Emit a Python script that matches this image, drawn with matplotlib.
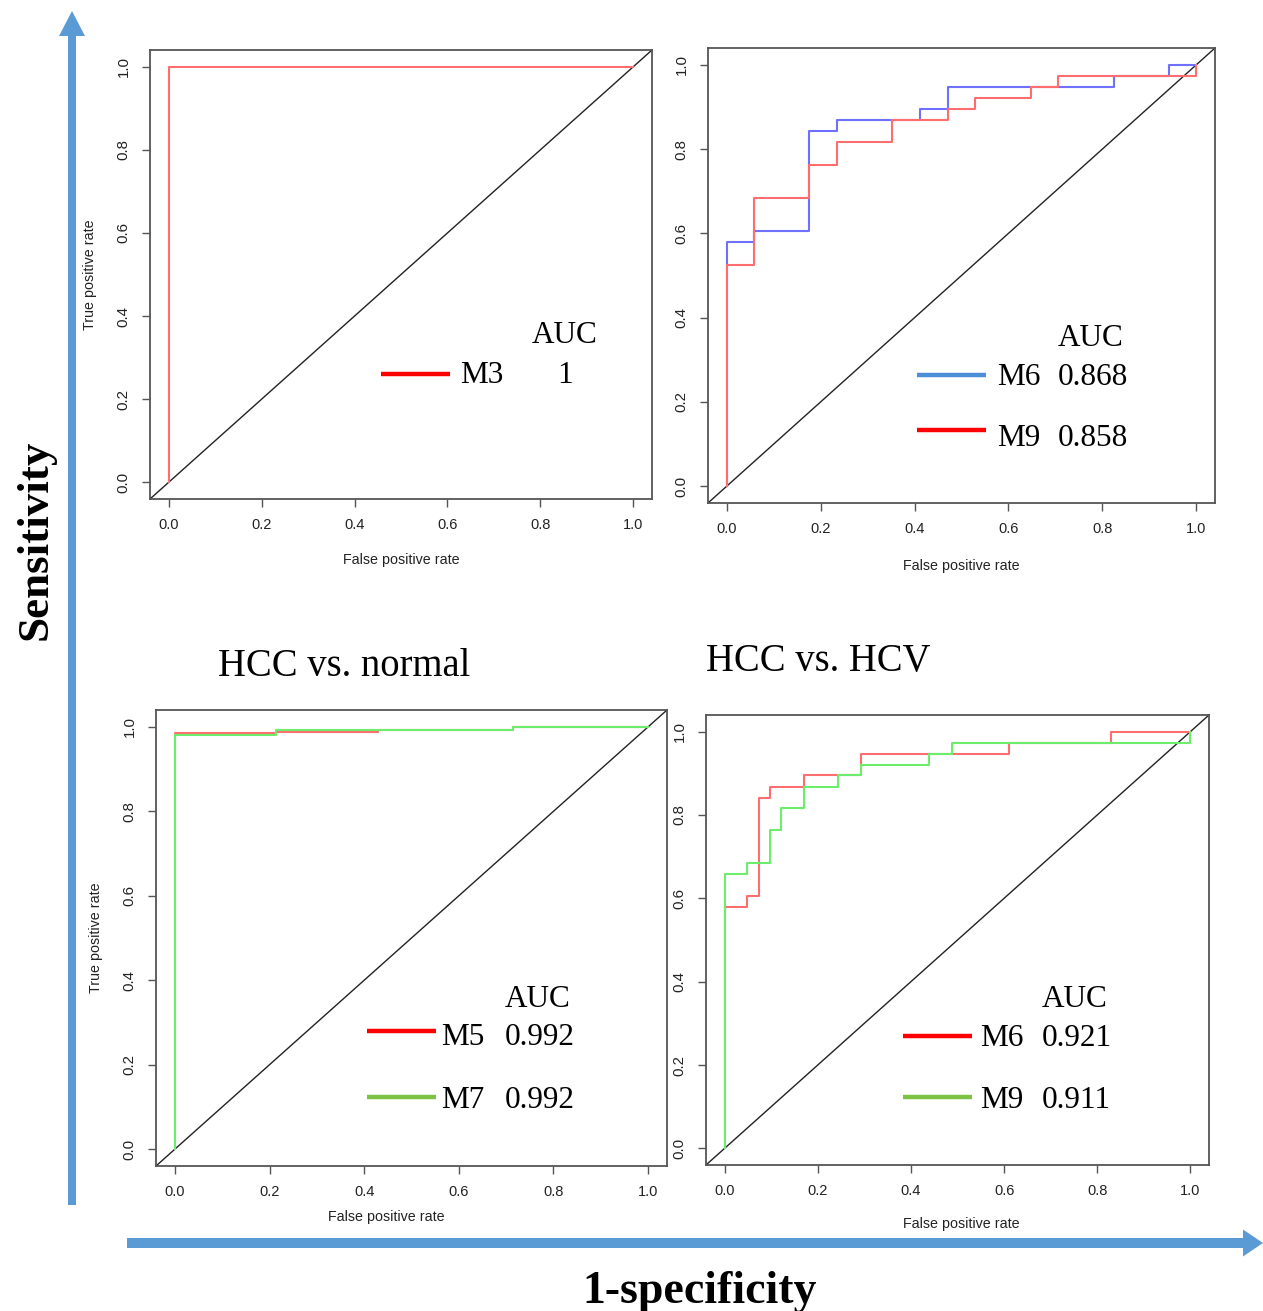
import matplotlib
matplotlib.use("Agg")
import matplotlib.pyplot as plt
from matplotlib.patches import FancyArrow

W, H = 1263, 1311

# ROC corner points
p1_m3_fpr = [0, 0, 1.0]
p1_m3_tpr = [0, 1.0, 1.0]

p2_m6_fpr = [0, 0, 0.059, 0.059, 0.176, 0.176, 0.235, 0.235, 0.412, 0.412, 0.471, 0.471, 0.824, 0.824, 0.941, 0.941, 1.0]
p2_m6_tpr = [0, 0.579, 0.579, 0.605, 0.605, 0.842, 0.842, 0.868, 0.868, 0.895, 0.895, 0.947, 0.947, 0.974, 0.974, 1.0, 1.0]
p2_m9_fpr = [0, 0, 0.059, 0.059, 0.176, 0.176, 0.235, 0.235, 0.353, 0.353, 0.471, 0.471, 0.529, 0.529, 0.647, 0.647, 0.706, 0.706, 1.0, 1.0]
p2_m9_tpr = [0, 0.526, 0.526, 0.684, 0.684, 0.763, 0.763, 0.816, 0.816, 0.868, 0.868, 0.895, 0.895, 0.921, 0.921, 0.947, 0.947, 0.974, 0.974, 1.0]

p3_m5_fpr = [0, 0, 0.213, 0.213, 0.429, 0.429, 0.715, 0.715, 1.0]
p3_m5_tpr = [0, 0.986, 0.986, 0.988, 0.988, 0.993, 0.993, 1.0, 1.0]
p3_m7_fpr = [0, 0, 0.213, 0.213, 0.715, 0.715, 1.0]
p3_m7_tpr = [0, 0.981, 0.981, 0.993, 0.993, 1.0, 1.0]

p4_m6_fpr = [0, 0, 0.049, 0.049, 0.073, 0.073, 0.098, 0.098, 0.171, 0.171, 0.293, 0.293, 0.610, 0.610, 0.829, 0.829, 1.0]
p4_m6_tpr = [0, 0.579, 0.579, 0.605, 0.605, 0.842, 0.842, 0.868, 0.868, 0.895, 0.895, 0.947, 0.947, 0.974, 0.974, 1.0, 1.0]
p4_m9_fpr = [0, 0, 0.049, 0.049, 0.098, 0.098, 0.122, 0.122, 0.171, 0.171, 0.244, 0.244, 0.293, 0.293, 0.439, 0.439, 0.488, 0.488, 1.0, 1.0]
p4_m9_tpr = [0, 0.658, 0.658, 0.684, 0.684, 0.763, 0.763, 0.816, 0.816, 0.868, 0.868, 0.895, 0.895, 0.921, 0.921, 0.947, 0.947, 0.974, 0.974, 1.0]

auc_p1 = ["1"]
auc_p2 = ["0.868", "0.858"]
auc_p3 = ["0.992", "0.992"]
auc_p4 = ["0.921", "0.911"]

RED, BLUE, GREEN = "#ff6e6e", "#7070ff", "#6cee6c"
serif = ["Liberation Serif", "DejaVu Serif"]
sans = ["Liberation Sans", "DejaVu Sans"]

fig = plt.figure(figsize=(W / 100, H / 100), dpi=100)


def px_axes(left, top, right, bottom):
    return fig.add_axes([left / W, 1 - bottom / H, (right - left) / W, (bottom - top) / H])


def roc_panel(ax, curves, ylabel=True, xlabel_pad=16):
    ax.set_xlim(-0.04, 1.04)
    ax.set_ylim(-0.04, 1.04)
    ax.axline((0, 0), (1, 1), color="#222222", lw=1.0)
    for fpr, tpr, c in curves:
        ax.plot(fpr, tpr, color=c, lw=1.5)
    ticks = [0, 0.2, 0.4, 0.6, 0.8, 1.0]
    ax.set_xticks(ticks)
    ax.set_yticks(ticks)
    ax.set_xticklabels([f"{t:.1f}" for t in ticks], fontfamily=sans, fontsize=10.5, color="#222222")
    ax.set_yticklabels([f"{t:.1f}" for t in ticks], fontfamily=sans, fontsize=10.8, color="#222222",
                       rotation=90, va="center")
    ax.tick_params(direction="out", length=6, width=1, color="#555555", pad=8)
    for s in ax.spines.values():
        s.set_color("#555555")
        s.set_linewidth(1.3)
    ax.set_xlabel("False positive rate", fontfamily=sans, fontsize=10.3, color="#222222", labelpad=xlabel_pad)
    if ylabel:
        ax.set_ylabel("True positive rate", fontfamily=sans, fontsize=10.3, color="#222222", labelpad=14)


ax1 = px_axes(150, 50, 652, 499)
roc_panel(ax1, [(p1_m3_fpr, p1_m3_tpr, RED)], xlabel_pad=15)
ax2 = px_axes(708, 48, 1215, 503)
roc_panel(ax2, [(p2_m6_fpr, p2_m6_tpr, BLUE), (p2_m9_fpr, p2_m9_tpr, RED)], ylabel=False)
ax3 = px_axes(156, 710, 667, 1166)
roc_panel(ax3, [(p3_m5_fpr, p3_m5_tpr, RED), (p3_m7_fpr, p3_m7_tpr, GREEN)])
ax3.xaxis.set_label_coords((386 - 156) / 511, (1166 - 1210) / 456)
ax4 = px_axes(706, 715, 1209, 1165)
roc_panel(ax4, [(p4_m6_fpr, p4_m6_tpr, RED), (p4_m9_fpr, p4_m9_tpr, GREEN)], ylabel=False, xlabel_pad=14)
ax4.xaxis.set_label_coords((961 - 706) / 503, (1165 - 1217) / 450)

# overlay in pixel coordinates for arrows, legends and big labels
ov = fig.add_axes([0, 0, 1, 1], zorder=10)
ov.set_xlim(0, W)
ov.set_ylim(H, 0)
ov.axis("off")

arrow_c = "#5b9bd5"
ov.add_patch(FancyArrow(72, 1205, 0, -1194, width=8, head_width=26, head_length=25,
                        length_includes_head=True, color=arrow_c, lw=0))
ov.add_patch(FancyArrow(127, 1243, 1136, 0, width=10, head_width=27, head_length=20,
                        length_includes_head=True, color=arrow_c, lw=0))

ov.text(36, 540, "Sensitivity", rotation=90, ha="center", va="center",
        fontfamily=serif, fontweight="bold", fontsize=32.5)
ov.text(700, 1303, "1-specificity", ha="center", va="baseline",
        fontfamily=serif, fontweight="bold", fontsize=33)
ov.text(344, 676, "HCC vs. normal", ha="center", va="baseline", fontfamily=serif, fontsize=27.8)
ov.text(818, 671, "HCC vs. HCV", ha="center", va="baseline", fontfamily=serif, fontsize=27.8)


def legend(x_line, x_name, x_val, y_auc, rows, val_ha="left"):
    ov.text(x_val if val_ha == "left" else x_val - 33, y_auc, "AUC", ha="left", va="baseline",
            fontfamily=serif, fontsize=22.5)
    for y_line, y_base, c, name, val in rows:
        ov.plot([x_line, x_line + 69], [y_line, y_line], color=c, lw=3.2, solid_capstyle="butt")
        ov.text(x_name, y_base, name, ha="left", va="baseline", fontfamily=serif, fontsize=22.5)
        ov.text(x_val, y_base, val, ha=val_ha, va="baseline", fontfamily=serif, fontsize=22.5)


legend(381, 460, 565, 343, [(374, 383, "#ff0000", "M3", auc_p1[0])], val_ha="center")
legend(917, 997, 1058, 346, [(375, 385, "#4a8fd8", "M6", auc_p2[0]),
                             (430, 446, "#ff0000", "M9", auc_p2[1])])
legend(367, 441, 505, 1007, [(1031, 1045, "#ff0000", "M5", auc_p3[0]),
                             (1097, 1108, "#7dc242", "M7", auc_p3[1])])
legend(903, 980, 1042, 1007, [(1036, 1046, "#ff0000", "M6", auc_p4[0]),
                              (1097, 1108, "#7dc242", "M9", auc_p4[1])])

fig.savefig("out.png", dpi=100, facecolor="white")
